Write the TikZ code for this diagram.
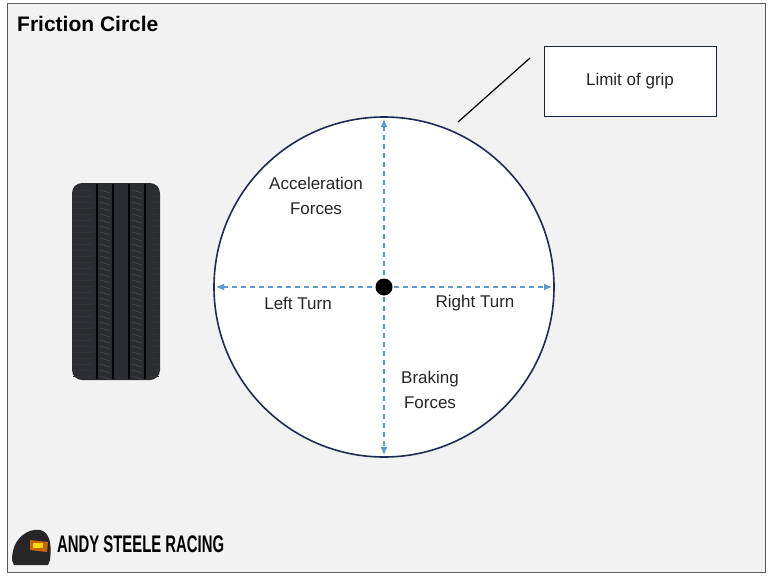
\documentclass[tikz,border=0pt]{standalone}
\usepackage{fontspec}
\setmainfont{Liberation Sans}
\usetikzlibrary{arrows.meta}
\definecolor{bg}{HTML}{F2F2F2}
\definecolor{navy}{HTML}{1F2A55}
\definecolor{axblue}{HTML}{5B9BD5}
\definecolor{tire}{HTML}{2A2C30}
\begin{document}
\begin{tikzpicture}[x=1pt,y=-1pt,
  lbl/.style={font=\fontsize{17}{25}\selectfont, align=center, text=black!85},
  axis/.style={draw=axblue, dash pattern=on 5pt off 4pt, line width=1.3pt, {Latex[length=8pt,width=7pt]}-{Latex[length=8pt,width=7pt]}}]
\useasboundingbox (0,0) rectangle (771,579);
\fill[white] (0,0) rectangle (771,579);
\draw[fill=bg, draw=gray!70!black, line width=1pt] (7,3) rectangle (765,572);
\node[anchor=west, font=\bfseries\fontsize{21}{24}\selectfont, inner sep=0] (title) at (17,24) {Friction Circle};
% circle
\node[circle, draw=navy, fill=white, line width=1.6pt, minimum size=340pt, inner sep=0] (fc) at (384,287) {};
\coordinate (L) at (216,287); \coordinate (R) at (552,287);
\coordinate (T) at (384,119); \coordinate (B) at (384,455);
\draw[axis] (L) -- (R);
\draw[axis] (T) -- (B);
\fill[black] (fc.center) circle (8.5pt);
\node[lbl] (acc) at (316,196) {Acceleration\\Forces};
\node[lbl] (lt) at (298,303) {Left Turn};
\node[lbl] (rt) at (475,303) {Right Turn};
\node[lbl] (brk) at (430,390) {Braking\\Forces};
% limit of grip
\node[draw=navy!80!black, fill=white, line width=1pt, minimum width=172pt, minimum height=70pt, lbl] (lim) at (630,81) {Limit of grip};
\coordinate (gp) at (458,122);
\draw[line width=1.2pt, black] (gp) -- (530,58);
% tire
\fill[tire, rounded corners=10pt] (72,183) rectangle (160,380);
\foreach \x in {97,113,129,145}{\draw[black, line width=1.6pt] (\x,184) -- (\x,379);}
\foreach \y in {190,196,...,376}{
  \draw[black!80, line width=0.6pt] (73,\y) -- (92,\y);
  \draw[black!80, line width=0.6pt] (150,\y) -- (159,\y);
  \draw[gray!60!black, line width=0.5pt] (100,\y) -- (110,\y+3);
  \draw[gray!60!black, line width=0.5pt] (132,\y) -- (142,\y+3);
}
% logo
\fill[black!85] (12,560) .. controls (12,538) and (28,528) .. (40,530) .. controls (50,532) and (52,545) .. (50,560) -- (48,565) -- (14,565) -- cycle;
\fill[orange!80!black] (30,540) -- (48,542) -- (47,552) -- (30,550) -- cycle;
\fill[orange!30!yellow] (33,543) rectangle (43,548);
\node[anchor=west, font=\bfseries\fontsize{24}{26}\selectfont, xscale=0.62, inner sep=0] (logo) at (57,544) {ANDY STEELE RACING};
\end{tikzpicture}
\end{document}
